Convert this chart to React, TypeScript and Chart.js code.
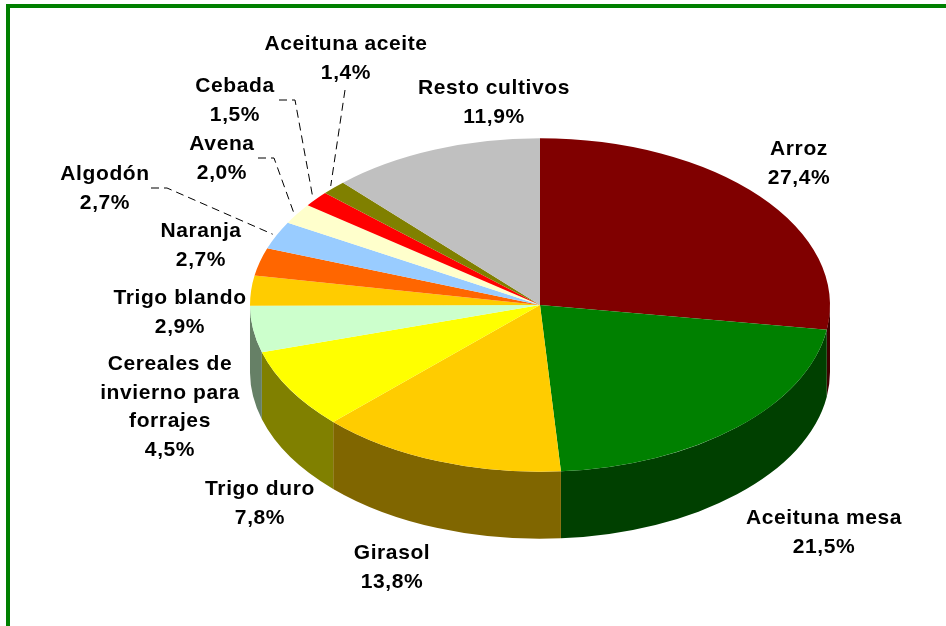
import React, { useEffect, useRef } from "react";
import { Chart, registerables } from "chart.js";

Chart.register(...registerables);

const categories = [
  "Arroz",
  "Aceituna mesa",
  "Girasol",
  "Trigo duro",
  "Cereales de invierno para forrajes",
  "Trigo blando",
  "Naranja",
  "Algodón",
  "Avena",
  "Cebada",
  "Aceituna aceite",
  "Resto cultivos",
];
const shares = [27.4, 21.5, 13.8, 7.8, 4.5, 2.9, 2.7, 2.7, 2.0, 1.5, 1.4, 11.9];
const shareLabels = ["27,4%", "21,5%", "13,8%", "7,8%", "4,5%", "2,9%", "2,7%", "2,7%", "2,0%", "1,5%", "1,4%", "11,9%"];
const topColors = [
  "#800000", "#008000", "#FFCC00", "#FFFF00", "#CCFFCC", "#FFCC00",
  "#FF6600", "#99CCFF", "#FFFFCC", "#FF0000", "#808000", "#C0C0C0",
];
const sideColors = [
  "#400000", "#004000", "#806600", "#808000", "#668066", "#806600",
  "#803300", "#668099", "#808066", "#800000", "#404000", "#606060",
];

// Layout of the text blocks (page pixels): centre x and baseline of the first line.
const labelLines = [
  ["Arroz"], ["Aceituna mesa"], ["Girasol"], ["Trigo duro"],
  ["Cereales de", "invierno para", "forrajes"], ["Trigo blando"], ["Naranja"],
  ["Algodón"], ["Avena"], ["Cebada"], ["Aceituna aceite"], ["Resto cultivos"],
];
const labelX = [799, 824, 392, 260, 170, 180, 201, 105, 222, 235, 346, 494];
const labelY = [155, 524, 559, 495, 370, 304, 237, 180, 150, 92, 50, 94];
// Leader start points for labels that have a dashed connector.
const leaderStart: Record<number, [number, number][]> = {
  7: [[151, 188], [167, 188]],
  8: [[258, 158], [274, 158]],
  9: [[279, 100], [295, 100]],
  10: [[345, 90]],
};

const SQUASH = 0.575;
const DEPTH = 67;
const LINE = 28.7;
const LEADER_REACH = 1.015;

const pie3d = {
  id: "pie3d",
  beforeDraw(chart: any) {
    const { ctx } = chart;
    ctx.save();
    ctx.fillStyle = "#008000";
    ctx.fillRect(6, 4, 940, 4);
    ctx.fillRect(6, 4, 4, 622);
    ctx.restore();
  },
  beforeDatasetDraw(chart: any) {
    const { ctx } = chart;
    const arcs = chart.getDatasetMeta(0).data;
    const { x: cx, y: cy, outerRadius: r } = arcs[0];
    const ry = r * SQUASH;
    ctx.save();
    arcs.forEach((arc: any, i: number) => {
      const a = Math.max(arc.startAngle, 0);
      const b = Math.min(arc.endAngle, Math.PI);
      const a2 = arc.startAngle - 2 * Math.PI;
      const b2 = arc.endAngle - 2 * Math.PI;
      const from = b > a ? a : Math.max(a2, 0);
      const to = b > a ? b : Math.min(b2, Math.PI);
      if (!(to > from)) return;
      ctx.beginPath();
      ctx.ellipse(cx, cy, r, ry, 0, from, to);
      ctx.ellipse(cx, cy + DEPTH, r, ry, 0, to, from, true);
      ctx.closePath();
      ctx.fillStyle = sideColors[i];
      ctx.fill();
    });
    ctx.restore();
    ctx.save();
    ctx.translate(cx, cy);
    ctx.scale(1, SQUASH);
    ctx.translate(-cx, -cy);
  },
  afterDatasetDraw(chart: any) {
    chart.ctx.restore();
  },
  afterDraw(chart: any) {
    const { ctx } = chart;
    const arcs = chart.getDatasetMeta(0).data;
    ctx.save();
    ctx.font = 'bold 21px "Liberation Sans", Arial, sans-serif';
    (ctx as any).letterSpacing = "0.6px";
    ctx.textAlign = "center";
    ctx.textBaseline = "alphabetic";
    ctx.fillStyle = "#000000";
    categories.forEach((_, i) => {
      const lines = [...labelLines[i], shareLabels[i]];
      lines.forEach((t, j) => ctx.fillText(t, labelX[i], labelY[i] + j * LINE));
    });
    ctx.strokeStyle = "#000000";
    ctx.lineWidth = 1;
    ctx.setLineDash([8, 5]);
    Object.keys(leaderStart).forEach((k) => {
      const i = Number(k);
      const arc = arcs[i];
      const mid = (arc.startAngle + arc.endAngle) / 2;
      const ex = arc.x + LEADER_REACH * arc.outerRadius * Math.cos(mid);
      const ey = arc.y + LEADER_REACH * arc.outerRadius * SQUASH * Math.sin(mid);
      ctx.beginPath();
      leaderStart[i].forEach(([x, y], n) => (n ? ctx.lineTo(x, y) : ctx.moveTo(x, y)));
      ctx.lineTo(ex, ey);
      ctx.stroke();
    });
    ctx.restore();
  },
};

export default function App() {
  const ref = useRef<HTMLCanvasElement>(null);
  useEffect(() => {
    document.body.style.margin = "0";
    document.body.style.background = "#ffffff";
    const chart = new Chart(ref.current!, {
      type: "pie",
      data: {
        labels: categories,
        datasets: [{ data: shares, backgroundColor: topColors, borderWidth: 0 }],
      },
      options: {
        responsive: false,
        animation: false,
        layout: { padding: { left: 250, right: 116, top: 15, bottom: 31 } },
        plugins: { legend: { display: false }, tooltip: { enabled: false }, title: { display: false } },
      },
      plugins: [pie3d],
    });
    return () => chart.destroy();
  }, []);
  return <canvas ref={ref} width={946} height={626} style={{ display: "block" }} />;
}
